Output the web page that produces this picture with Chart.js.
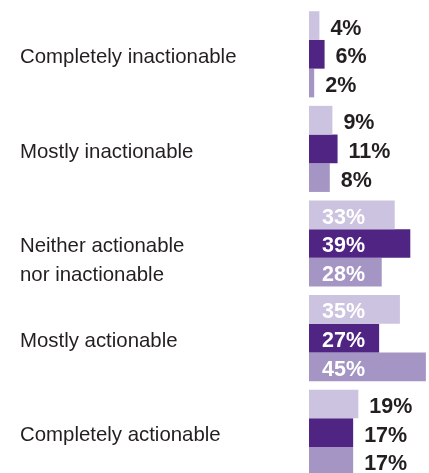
<!DOCTYPE html>
<html>
<head>
<meta charset="utf-8">
<script src="https://cdn.jsdelivr.net/npm/chart.js@4"></script>
<style>
    body { margin: 0; background: #fff; overflow: hidden; }
    #wrap { width: 429px; height: 480px; }
</style>
</head>
<body>
<div id="wrap"><canvas id="chart" width="429" height="480"></canvas></div>
<script>
const categories = [
    'Completely inactionable',
    'Mostly inactionable',
    ['Neither actionable', 'nor inactionable'],
    'Mostly actionable',
    'Completely actionable'
];
const lightValues = [4, 9, 33, 35, 19];
const darkValues = [6, 11, 39, 27, 17];
const mediumValues = [2, 8, 28, 45, 17];

const textColor = '#231f20';
const fontFamily = "'Liberation Sans', Arial, sans-serif";

// value labels: white inside the long bars, dark just past the end of short ones
const valueLabels = {
    id: 'valueLabels',
    afterDatasetsDraw(chart) {
        const ctx = chart.ctx;
        ctx.save();
        ctx.font = 'bold 21.5px ' + fontFamily;
        ctx.textAlign = 'left';
        ctx.textBaseline = 'middle';
        chart.data.datasets.forEach((ds, di) => {
            chart.getDatasetMeta(di).data.forEach((bar, i) => {
                const v = ds.data[i];
                const inside = v >= 25;
                ctx.fillStyle = inside ? '#ffffff' : textColor;
                const x = inside ? bar.base + 13 : bar.x + 11;
                ctx.fillText(v + '%', x, bar.y + 3);
            });
        });
        ctx.restore();
    }
};

const ctx = document.getElementById('chart').getContext('2d');
const chart = new Chart(ctx, {
    type: 'bar',
    data: {
        labels: categories,
        datasets: [
            { data: lightValues, backgroundColor: 'rgb(203,195,223)' },
            { data: darkValues, backgroundColor: 'rgb(80,36,131)' },
            { data: mediumValues, backgroundColor: 'rgb(165,149,196)' }
        ]
    },
    options: {
        indexAxis: 'y',
        responsive: false,
        animation: false,
        layout: { padding: { left: 20, top: 7, right: 0, bottom: 0 } },
        datasets: {
            bar: { barPercentage: 1, categoryPercentage: 0.91, borderWidth: 0 }
        },
        plugins: {
            legend: { display: false },
            tooltip: { enabled: false }
        },
        scales: {
            x: { display: false, min: 0, max: 46.2 },
            y: {
                grid: { display: false },
                border: { display: false },
                afterFit: scale => {
                    scale.width = 289;
                    scale.paddingTop = 0;
                    scale.paddingBottom = 0;
                },
                ticks: {
                    crossAlign: 'far',
                    labelOffset: 3,
                    color: textColor,
                    font: { family: fontFamily, size: 20.4, lineHeight: 1.4 },
                    callback: function (value) {
                        const label = this.getLabelForValue(value);
                        // two-line label sits with its first line on the bar centre
                        return Array.isArray(label) ? [''].concat(label) : label;
                    }
                }
            }
        }
    },
    plugins: [valueLabels]
});
</script>
</body>
</html>
